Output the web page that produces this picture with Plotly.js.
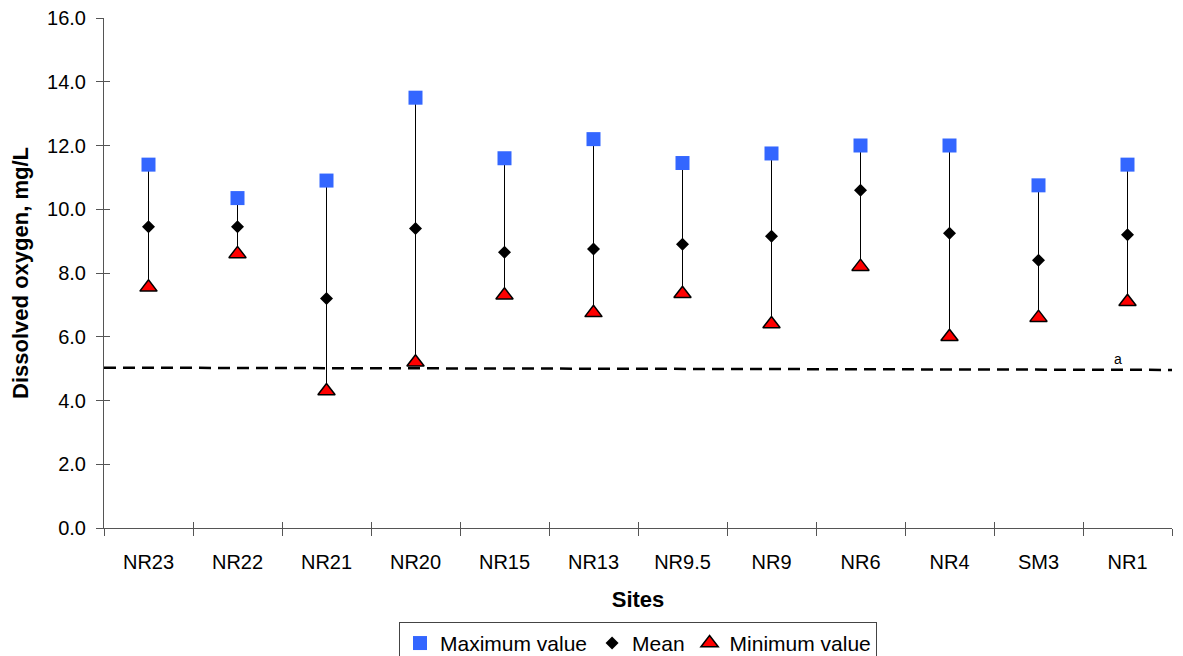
<!DOCTYPE html>
<html>
<head>
<meta charset="utf-8">
<script src="https://cdn.plot.ly/plotly-3.0.1.min.js"></script>
<style>html,body{margin:0;padding:0;background:#fff;}#chart{width:1183px;height:656px;}</style>
</head>
<body>
<div id="chart"></div>
<script>
const sites = ['NR23','NR22','NR21','NR20','NR15','NR13','NR9.5','NR9','NR6','NR4','SM3','NR1'];
const maxValues = [11.4, 10.35, 10.9, 13.5, 11.6, 12.2, 11.45, 11.75, 12.0, 12.0, 10.75, 11.4];
const meanValues = [9.45, 9.45, 7.2, 9.4, 8.65, 8.75, 8.9, 9.15, 10.6, 9.25, 8.4, 9.2];
const minValues = [7.55, 8.6, 4.3, 5.2, 7.3, 6.75, 7.35, 6.4, 8.2, 6.0, 6.6, 7.1];
const thresholdStart = 5.03;
const thresholdEnd = 4.96;
const thresholdLabel = 'a';
const yTickValues = [0, 2, 4, 6, 8, 10, 12, 14, 16];

const rangeX = [], rangeY = [];
sites.forEach((s, i) => { rangeX.push(s, s, null); rangeY.push(minValues[i], maxValues[i], null); });

const font = "'Liberation Sans', Arial, sans-serif";
const traces = [
  {x: rangeX, y: rangeY, type: 'scatter', mode: 'lines', line: {color: '#000', width: 1}, showlegend: false, hoverinfo: 'skip', connectgaps: false},
  {x: sites, y: maxValues, type: 'scatter', mode: 'markers', name: 'Maximum value',
   marker: {symbol: 'square', size: 14, color: '#3366FF', line: {width: 0}}},
  {x: sites, y: meanValues, type: 'scatter', mode: 'markers', name: 'Mean',
   marker: {symbol: 'diamond', size: 10, color: '#000', line: {width: 0}}},
  {x: sites, y: minValues, type: 'scatter', mode: 'markers', name: 'Minimum value',
   marker: {symbol: 'triangle-up', size: 15, color: '#FF0000', line: {width: 1.5, color: '#000'}}}
];

const layout = {
  width: 1183, height: 656,
  margin: {l: 104, r: 11, t: 18, b: 128},
  paper_bgcolor: '#fff', plot_bgcolor: '#fff',
  font: {family: font, size: 20, color: '#000'},
  showlegend: true,
  legend: {orientation: 'h', x: 0.5, xanchor: 'center', xref: 'paper', yref: 'container', y: 0.052, yanchor: 'top',
           bordercolor: '#444', borderwidth: 1, bgcolor: '#fff', font: {size: 21, family: font},
           itemwidth: 30, tracegroupgap: 0},
  xaxis: {type: 'category', categoryorder: 'array', categoryarray: sites, range: [-0.5, sites.length - 0.5],
          showline: true, linecolor: '#555', linewidth: 1, mirror: false, showgrid: false, zeroline: false,
          ticks: 'outside', ticklen: 7, tickcolor: '#555', tickwidth: 1, tickson: 'boundaries',
          tickfont: {size: 20, family: font}, ticklabelstandoff: 16,
          title: {text: '<b>Sites</b>', font: {size: 22, family: font}, standoff: 19}},
  xaxis2: {overlaying: 'x', range: [-0.5, sites.length - 0.5], tickmode: 'linear', tick0: -0.5, dtick: 1,
           ticks: 'inside', ticklen: 6, tickcolor: '#555', tickwidth: 1, showticklabels: false,
           showgrid: false, zeroline: false, showline: false, side: 'bottom', anchor: 'y'},
  yaxis: {range: [0, 16], tickvals: yTickValues, ticktext: yTickValues.map(v => v.toFixed(1)),
          showline: true, linecolor: '#555', linewidth: 1, showgrid: false, zeroline: false,
          ticks: 'outside', ticklen: 7, tickcolor: '#555', tickwidth: 1,
          tickfont: {size: 20, family: font}, ticklabelstandoff: 6,
          title: {text: '<b>Dissolved oxygen, mg/L</b>', font: {size: 22, family: font}, standoff: 12}},
  yaxis2: {overlaying: 'y', range: [0, 16], tickvals: yTickValues, ticks: 'inside', ticklen: 6, tickcolor: '#555',
           showticklabels: false, showgrid: false, zeroline: false, showline: false, side: 'left', anchor: 'x'},
  shapes: [{type: 'line', xref: 'paper', yref: 'y', x0: 0, x1: 1, y0: thresholdStart, y1: thresholdEnd,
            line: {color: '#000', width: 2.5, dash: '12px,7px'}, layer: 'below'}],
  annotations: [{xref: 'x', yref: 'y', x: sites[sites.length - 1], y: thresholdEnd, text: thresholdLabel,
                 showarrow: false, xshift: -10, yanchor: 'bottom', yshift: 1, font: {size: 14, family: font}}]
};

traces.push({x: [0], y: [0], xaxis: 'x2', yaxis: 'y2', mode: 'markers', marker: {opacity: 0}, showlegend: false, hoverinfo: 'skip', type: 'scatter'});

Plotly.newPlot('chart', traces, layout, {displayModeBar: false, staticPlot: true});
</script>
</body>
</html>
